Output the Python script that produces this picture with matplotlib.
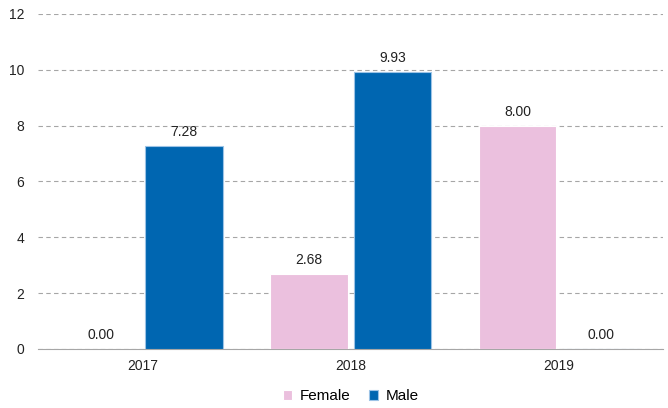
import matplotlib
matplotlib.use('Agg')
import matplotlib.pyplot as plt
import numpy as np

plt.rcParams['font.family'] = ['Liberation Sans', 'DejaVu Sans']

years = ['2017', '2018', '2019']
female = [0.00, 2.68, 8.00]
male = [7.28, 9.93, 0.00]

pink = '#ebc0de'
blue = '#0066b1'

fig = plt.figure(figsize=(6.68, 4.08), dpi=100)
ax = fig.add_axes([0.057, 0.145, 0.936, 0.821])

x = np.arange(len(years))
w = 0.37
b1 = ax.bar(x - 0.2, female, w, color=pink, edgecolor='white', linewidth=0.8, label='Female', zorder=3)
b2 = ax.bar(x + 0.2, male, w, color=blue, edgecolor='#9cc3e6', linewidth=0.8, label='Male', zorder=3)

for bars, vals in ((b1, female), (b2, male)):
    for r, v in zip(bars, vals):
        ax.text(r.get_x() + r.get_width() / 2, v + 0.25, '%.2f' % v,
                ha='center', va='bottom', fontsize=10, color='#222222')

ax.set_xlim(-0.5, 2.5)
ax.set_ylim(0, 12)
ax.set_yticks(range(0, 13, 2))
ax.set_xticks(x)
ax.set_xticklabels(years)
ax.tick_params(axis='both', length=0, labelsize=10, colors='#222222')
ax.tick_params(axis='y', pad=10)
ax.tick_params(axis='x', pad=7)
ax.yaxis.grid(True, linestyle=(0, (4, 3)), color='#a6a6a6', linewidth=0.8, zorder=0)
for s in ['top', 'right', 'left']:
    ax.spines[s].set_visible(False)
ax.spines['bottom'].set_color('#a6a6a6')

ax.legend(loc='upper center', bbox_to_anchor=(0.5, -0.08), ncol=2, frameon=False,
          fontsize=11, handlelength=0.6, handleheight=0.6, handletextpad=0.5, columnspacing=1.2)

fig.savefig('out.png', dpi=100)
